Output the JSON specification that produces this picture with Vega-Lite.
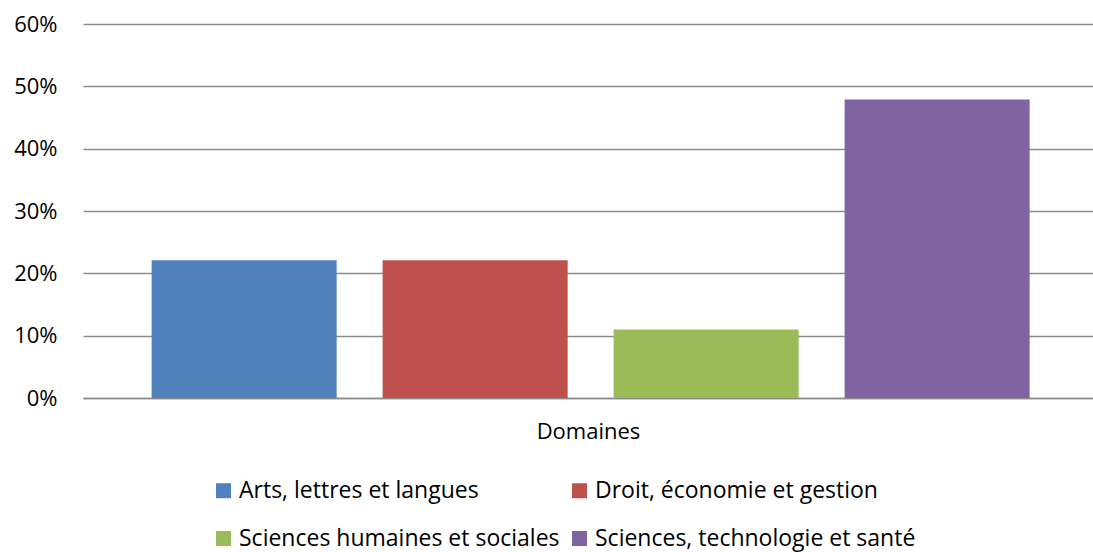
{
  "$schema": "https://vega.github.io/schema/vega-lite/v6.json",
  "autosize": "none",
  "width": 1010,
  "height": 374,
  "padding": {"left": 83, "top": 24, "right": 0, "bottom": 154},
  "background": "white",
  "config": {
    "font": "Open Sans",
    "view": {"stroke": null}
  },
  "data": {
    "values": [
      {"domaine": "Arts, lettres et langues", "part": 0.221},
      {"domaine": "Droit, économie et gestion", "part": 0.221},
      {"domaine": "Sciences humaines et sociales", "part": 0.110},
      {"domaine": "Sciences, technologie et santé", "part": 0.479}
    ]
  },
  "mark": {"type": "bar"},
  "encoding": {
    "x": {
      "field": "domaine",
      "type": "nominal",
      "sort": null,
      "scale": {"paddingInner": 0.199, "paddingOuter": 0.2857, "align": 0.52},
      "axis": {
        "title": "Domaines",
        "labels": false,
        "ticks": false,
        "domainColor": "#8c8c8c",
        "domainWidth": 1.5,
        "titleFont": "Open Sans",
        "titleFontSize": 22,
        "titleFontWeight": "normal",
        "titleColor": "#000",
        "titlePadding": 23
      }
    },
    "y": {
      "field": "part",
      "type": "quantitative",
      "scale": {"domain": [0, 0.6]},
      "axis": {
        "title": null,
        "format": ".0%",
        "values": [0, 0.1, 0.2, 0.3, 0.4, 0.5, 0.6],
        "domain": false,
        "ticks": false,
        "labelPadding": 26,
        "labelFont": "Open Sans",
        "labelFontSize": 22,
        "labelColor": "#000",
        "gridColor": "#8c8c8c",
        "gridWidth": 1.5
      }
    },
    "color": {
      "field": "domaine",
      "type": "nominal",
      "sort": null,
      "scale": {"range": ["#4F81BD", "#C0504D", "#9BBB59", "#8064A2"]},
      "legend": {
        "title": null,
        "orient": "none",
        "legendX": 129,
        "legendY": 455,
        "direction": "horizontal",
        "columns": 2,
        "gridAlign": "all",
        "columnPadding": 8,
        "rowPadding": 24,
        "symbolType": "square",
        "symbolSize": 225,
        "symbolStrokeWidth": 0,
        "labelOffset": 4,
        "labelFont": "Open Sans",
        "labelFontSize": 23,
        "labelColor": "#000",
        "labelLimit": 400
      }
    }
  }
}
